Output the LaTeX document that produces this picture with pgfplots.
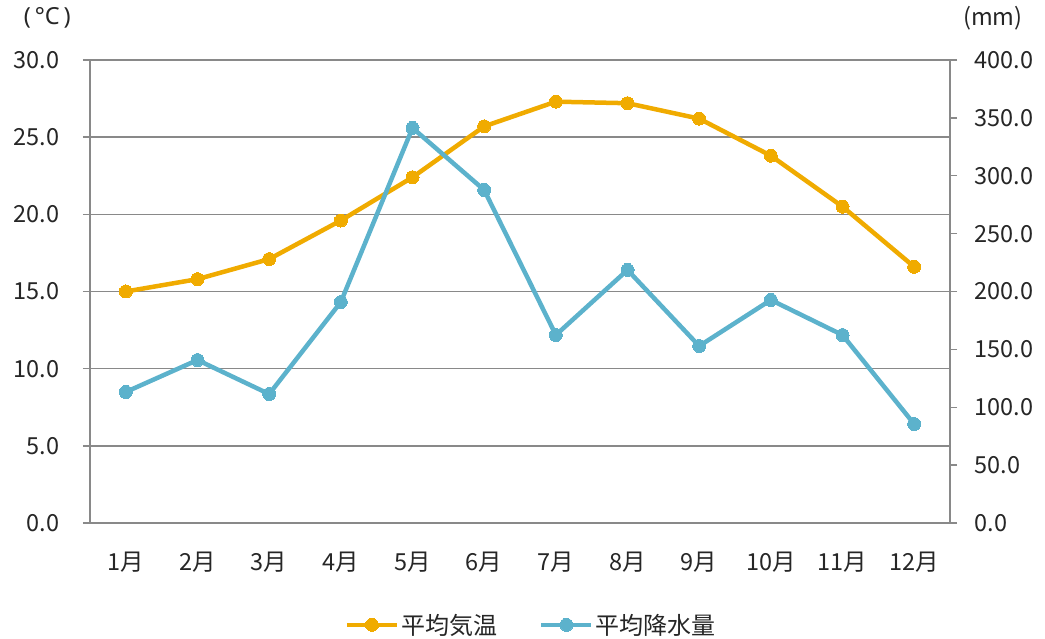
\documentclass[border=0pt]{standalone}
\usepackage{pgfplots}
\pgfplotsset{compat=1.18}
\usepackage{fontspec}
\setmainfont{Noto Sans CJK JP}
\newfontfamily\latinfont{Noto Sans}
\definecolor{tempc}{RGB}{240,171,0}
\definecolor{rainc}{RGB}{92,178,204}
\definecolor{gridc}{RGB}{137,137,137}
\definecolor{textc}{RGB}{38,38,38}
\pgfplotstableread{
m t
0 15.0
1 15.8
2 17.1
3 19.6
4 22.4
5 25.7
6 27.3
7 27.2
8 26.2
9 23.8
10 20.5
11 16.6
}\temptab
\pgfplotstableread{
m r
0 113.2
1 140.8
2 111.4
3 190.9
4 341.3
5 287.7
6 162.4
7 218.6
8 152.9
9 192.7
10 162.4
11 85.5
}\raintab
\begin{document}
\begin{tikzpicture}[font=\fontsize{23.5bp}{27bp}\selectfont, text=textc]
\pgfplotsset{
  common/.style={
    scale only axis, width=860bp, height=463bp,
    xmin=-0.5, xmax=11.5,
    tick align=outside,
    major tick length=7bp, minor tick length=7bp,
    every tick/.style={gridc, line width=1.4bp},
    axis line style={gridc, line width=1.4bp},
    yticklabel style={/pgf/number format/fixed, /pgf/number format/fixed zerofill, /pgf/number format/precision=1, /pgf/number format/assume math mode=true},
  },
  mylegimg/.style={legend image code/.code={\draw[mark repeat=2,mark phase=2,##1] plot coordinates {(0bp,0bp) (25bp,0bp) (50bp,0bp)};}},
}
\begin{axis}[common, name=ax, clip=false,
  ymin=0, ymax=30, ytick distance=5,
  axis x line*=bottom, axis y line*=left,
  ymajorgrids, grid style={gridc, line width=1.4bp},
  xtick={0,...,11},
  xticklabels={1月,2月,3月,4月,5月,6月,7月,8月,9月,10月,11月,12月},
  xtick style={draw=none},
  minor xtick={-0.5,0.5,...,11.5},
  xticklabel style={yshift=-18bp},
  yticklabel style={xshift=-20bp},
]
\addplot[tempc, line width=4.5bp, mark=*, mark size=6.5bp, mark options={fill=tempc, draw=tempc, line width=0bp}] table[x=m,y=t] {\temptab};
\draw[gridc, line width=1.4bp] (rel axis cs:1,0) -- (rel axis cs:1,1);
\node[anchor=east, inner sep=0pt, font=\latinfont\fontsize{23.5bp}{27bp}\selectfont] at ([xshift=-19bp,yshift=42bp]rel axis cs:0,1) {(\,°C\,)};
\node[anchor=west, inner sep=0pt] at ([xshift=13bp,yshift=42bp]rel axis cs:1,1) {(mm)};
\end{axis}
\begin{axis}[common,
  ymin=0, ymax=400, ytick distance=50,
  hide x axis, axis y line*=right,
  yticklabel style={xshift=14bp},
  legend style={draw=none, fill=none, at={(0.513,-0.22)}, anchor=center, legend columns=2,
    /tikz/every even column/.append style={column sep=40bp},
    font=\fontsize{24bp}{28bp}\selectfont, text=textc},
  legend cell align=left,
  mylegimg,
]
\addlegendimage{tempc, line width=4.5bp, mark=*, mark size=6.5bp, mark options={fill=tempc, draw=tempc, line width=0bp}}
\addlegendentry{平均気温}
\addplot[rainc, line width=4.5bp, mark=*, mark size=6.5bp, mark options={fill=rainc, draw=rainc, line width=0bp}] table[x=m,y=r] {\raintab};
\addlegendentry{平均降水量}
\end{axis}
\pgfresetboundingbox
\path ([xshift=-90bp,yshift=-116bp]ax.south west) rectangle ([xshift=95bp,yshift=60bp]ax.north east);
\end{tikzpicture}
\end{document}
